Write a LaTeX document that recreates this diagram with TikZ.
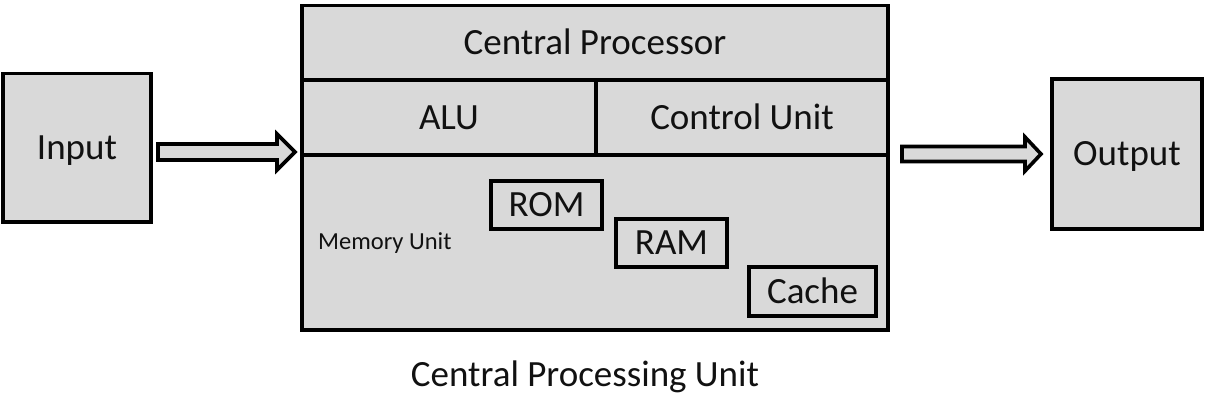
\documentclass[tikz,border=0pt]{standalone}
\usepackage{fontspec}
\setmainfont{Carlito}
\usetikzlibrary{calc}
\definecolor{boxfill}{HTML}{D9D9D9}
\definecolor{ink}{HTML}{111111}
\tikzset{
  big/.style={font=\fontsize{37}{44}\selectfont, text=ink, text height=31.2pt, text depth=7.4pt},
  small/.style={font=\fontsize{24.5}{29}\selectfont, text=ink, text height=20.7pt, text depth=4.9pt},
  mainbox/.style={draw=black, fill=boxfill, line width=3.6pt, inner sep=0pt, outer sep=0pt, rectangle},
  subbox/.style={draw=black, fill=boxfill, line width=3.4pt, inner sep=0pt, outer sep=0pt, rectangle},
  divline/.style={draw=black, line width=3.2pt},
  blockarrow/.style={draw=black, fill=boxfill, line width=3.6pt, line join=miter},
}
\begin{document}
\begin{tikzpicture}[x=1pt,y=-1pt]
\useasboundingbox (0,0) rectangle (1206,418);
% outer boxes
\node[mainbox, big, minimum width=148, minimum height=148.5] (input) at (77,147.75) {Input};
\node[mainbox, big, minimum width=150, minimum height=150] (output) at (1127,154) {Output};
\node[mainbox, minimum width=586, minimum height=324.5] (cpu) at (595,167.75) {};
% inner divisions of the CPU
\coordinate (r1) at (0,80);
\coordinate (r2) at (0,155);
\draw[divline] (cpu.west |- r1) -- (cpu.east |- r1);
\draw[divline] (cpu.west |- r2) -- (cpu.east |- r2);
\coordinate (dv) at (596,0);
\draw[divline] (dv |- r1) -- (dv |- r2);
% labels
\node[big] (cproc) at (595,42.75) {Central Processor};
\node[big] (alu) at (449,117.5) {ALU};
\node[big] (cu) at (742,117.5) {Control Unit};
\node[small, anchor=west, inner sep=0pt] (mem) at (318,242) {Memory Unit};
% memory parts
\node[subbox, big, minimum width=111, minimum height=48] (rom) at (546.5,205) {ROM};
\node[subbox, big, minimum width=111, minimum height=48] (ram) at (671.5,243) {RAM};
\node[subbox, big, minimum width=127, minimum height=49] (cache) at (812.5,291.5) {Cache};
% caption
\node[big] (caption) at (585,375) {Central Processing Unit};
% block arrows
\coordinate (ia) at ($(input.east |- 0,152)+(7,0)$);
\coordinate (ib) at ($(cpu.west |- 0,152)+(-7,0)$);
\draw[blockarrow] ($(ia)+(0,-8)$) -- ($(ib)+(-18,-8)$) -- ($(ib)+(-18,-18)$) -- (ib)
  -- ($(ib)+(-18,18)$) -- ($(ib)+(-18,8)$) -- ($(ia)+(0,8)$) -- cycle;
\coordinate (oa) at ($(cpu.east |- 0,154)+(14,0)$);
\coordinate (ob) at ($(output.west |- 0,154)+(-11,0)$);
\draw[blockarrow] ($(oa)+(0,-7.5)$) -- ($(ob)+(-16,-7.5)$) -- ($(ob)+(-16,-17)$) -- (ob)
  -- ($(ob)+(-16,17)$) -- ($(ob)+(-16,7.5)$) -- ($(oa)+(0,7.5)$) -- cycle;
\end{tikzpicture}
\end{document}
